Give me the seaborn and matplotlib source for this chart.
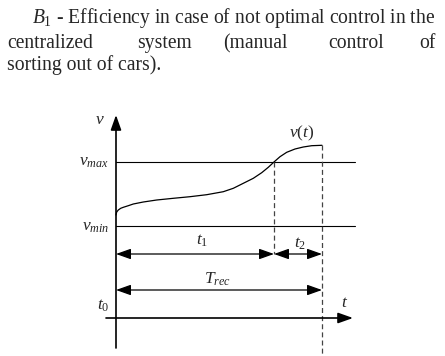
import numpy as np
import matplotlib
matplotlib.use("Agg")
import matplotlib.pyplot as plt
import seaborn as sns

# paragraph above the diagram
line1 = r"$B_{\mathrm{1}}$ - Efficiency in case of not optimal control in the"
line2_words = ["centralized", "system", "(manual", "control", "of"]
line3 = "sorting out of cars)."

# v(t) curve, t measured from t0, v measured from v_min
curve_t = [0, 0.7, 2.3, 4.7, 7.3, 12.3, 17.3, 27.3, 40.7, 57.3, 74, 90.7, 107.3,
           117.3, 127.3, 137.3, 145.7, 152.3, 158.3, 164, 170.7, 179, 187.3, 195.7, 206]
curve_v = [11, 14, 16, 17.7, 18.7, 20.3, 22, 24, 26, 27.7, 29.3, 31.3, 34.3,
           37.7, 42.7, 47.7, 53.3, 58.7, 64.3, 69.3, 73.7, 77, 79, 80.3, 80.7]

v_min = 0
v_max = 64
t1 = 158          # time where v(t) reaches v_max
t_rec = 206       # end of the curve
t_axis_v = -92    # level of the t axis
t1_arrow_v = -28
trec_arrow_v = -64

sns.set_style("white")
plt.rcParams["font.family"] = ["Liberation Serif", "DejaVu Serif"]
plt.rcParams["mathtext.fontset"] = "custom"
plt.rcParams["mathtext.rm"] = "Liberation Serif"
plt.rcParams["mathtext.it"] = "Liberation Serif:italic"

fig = plt.figure(figsize=(4.45, 3.56), dpi=100)
ax = fig.add_axes([0, 0, 1, 1])
ax.set_xlim(-116, 329)
ax.set_ylim(-130, 226)
ax.axis("off")

# text block
fs = 14.1
ax.text(-84, 203, line1, fontsize=fs, va="baseline", ha="left")
word_x = [-109, 21, 107, 212, 303]
for w, x in zip(line2_words, word_x):
    ax.text(x, 178, w, fontsize=fs, va="baseline", ha="left")
ax.text(-109, 156, line3, fontsize=fs, va="baseline", ha="left")

lw = 0.8
# horizontal levels
sns.lineplot(x=[0, 239], y=[v_max, v_max], ax=ax, color="black", lw=lw)
sns.lineplot(x=[0, 239], y=[v_min, v_min], ax=ax, color="black", lw=lw)

# curve
sns.lineplot(x=curve_t, y=curve_v, ax=ax, color="black", lw=0.9, sort=False)

# dashed verticals
ax.plot([t1, t1], [v_max, t1_arrow_v], color="#444444", lw=0.9, ls=(0, (4, 2.5)))
ax.plot([t_rec, t_rec], [curve_v[-1], -130], color="#444444", lw=0.9, ls=(0, (4, 2.5)))

# axes with arrows
head = "head_length=0.9,head_width=0.32"
ax.annotate("", xy=(0, 111), xytext=(0, -122),
            arrowprops=dict(arrowstyle="-|>," + head, color="black", lw=1.2,
                            shrinkA=0, shrinkB=0, mutation_scale=10))
ax.annotate("", xy=(237, t_axis_v), xytext=(-10, t_axis_v),
            arrowprops=dict(arrowstyle="-|>," + head, color="black", lw=1.2,
                            shrinkA=0, shrinkB=0, mutation_scale=10))

# interval arrows
for a, b, y in [(0, t1, t1_arrow_v), (t1, t_rec, t1_arrow_v), (0, t_rec, trec_arrow_v)]:
    ax.annotate("", xy=(b, y), xytext=(a, y),
                arrowprops=dict(arrowstyle="<|-|>," + head, color="black", lw=0.9,
                                shrinkA=0, shrinkB=0, mutation_scale=10))

# labels
lfs = 12.5
ax.text(-16, 106, r"$v$", fontsize=lfs, ha="center", va="center")
ax.text(-7, 64, r"$v_{max}$", fontsize=lfs, ha="right", va="center")
ax.text(-7, -1, r"$v_{min}$", fontsize=lfs, ha="right", va="center")
ax.text(186, 93, r"$v(t)$", fontsize=lfs, ha="center", va="center")
ax.text(86, -15, r"$t_{\mathrm{1}}$", fontsize=lfs, ha="center", va="center")
ax.text(184, -18, r"$t_{\mathrm{2}}$", fontsize=lfs, ha="center", va="center")
ax.text(102, -53, r"$T_{rec}$", fontsize=lfs, ha="center", va="center")
ax.text(-13, -80, r"$t_{\mathrm{0}}$", fontsize=lfs, ha="center", va="center")
ax.text(229, -77, r"$t$", fontsize=lfs, ha="center", va="center")

fig.savefig("out.png", dpi=100)
